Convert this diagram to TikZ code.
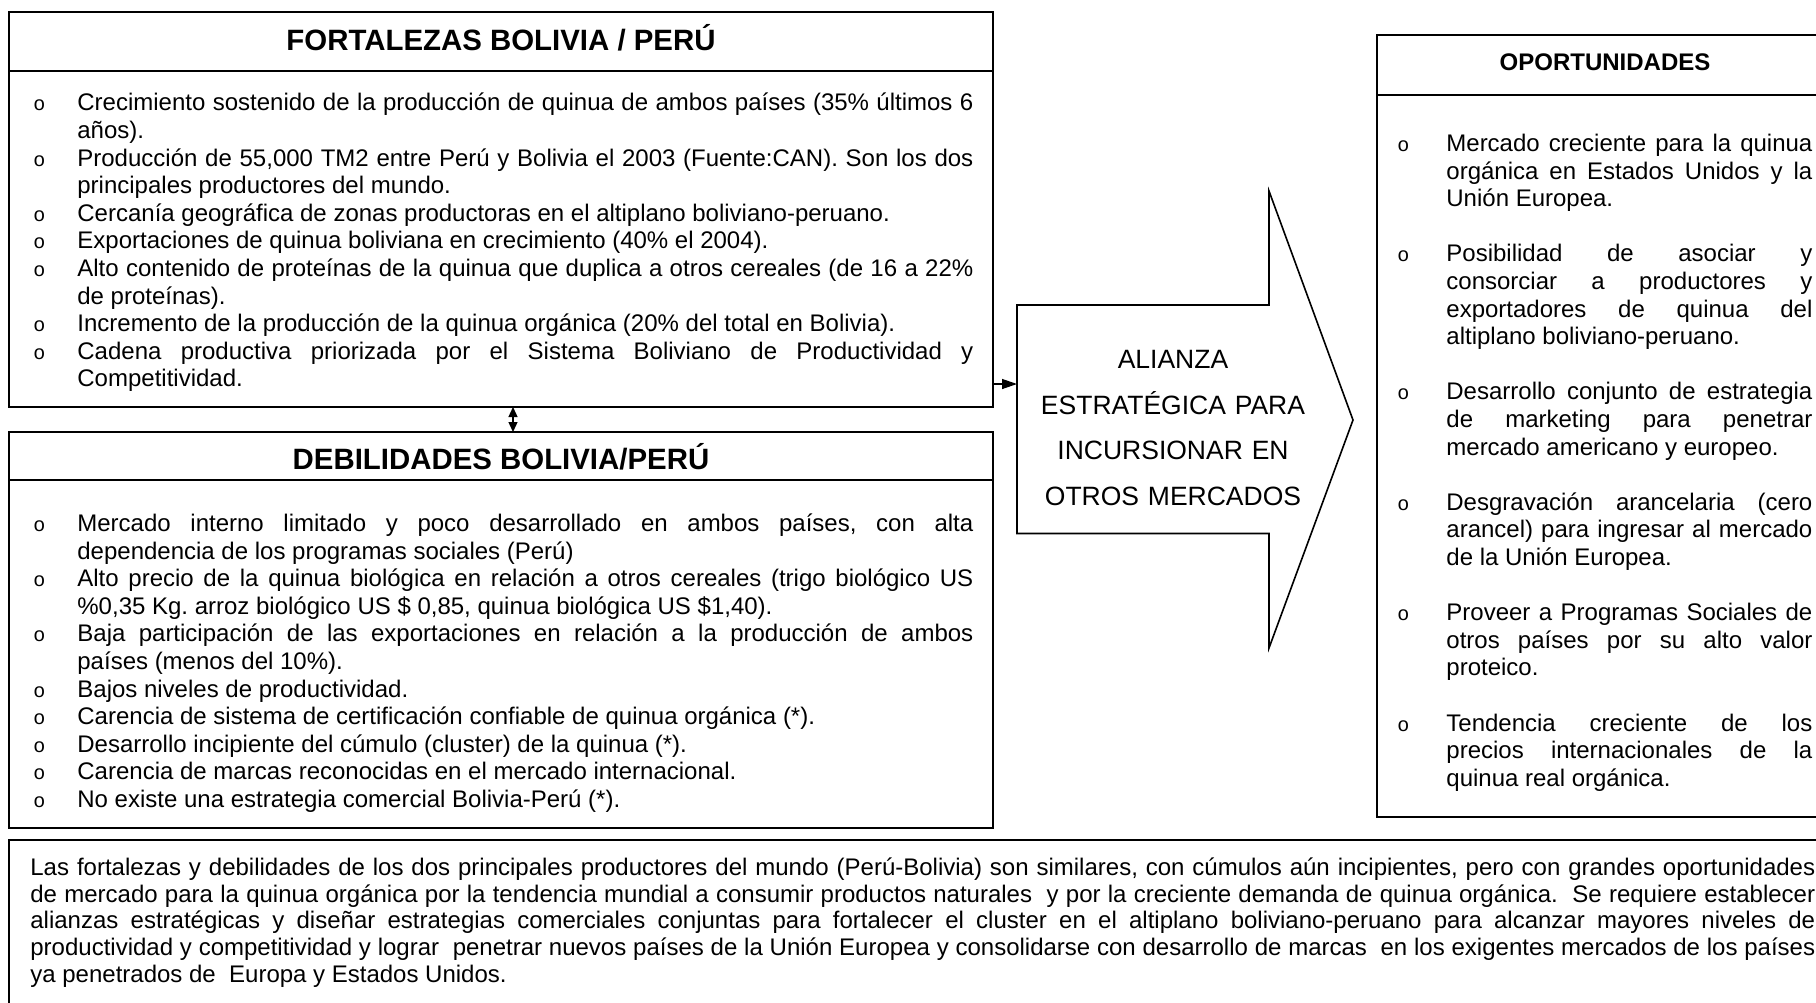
\documentclass[tikz,border=0pt]{standalone}
\usepackage{fontspec}
\setmainfont{Liberation Sans}
\newfontfamily\bulfont{Liberation Mono}
\usetikzlibrary{arrows.meta}
\frenchspacing
\newlength\tw
\newlength\bw
\newcommand\resetsp{\spaceskip=0pt\relax\xspaceskip=0pt\relax\parindent=0pt\relax}
\newcommand\bulbox{\makebox[\bw][l]{{\bulfont\fontsize{10pt}{10pt}\selectfont o}}}
\newcommand\fs{\rule{0pt}{10pt}}
\newcommand\BJ[1]{\noindent\bulbox\hbox to \tw{#1}\par}
\newcommand\BN[1]{\noindent\bulbox#1\par}
\newcommand\CJ[1]{\noindent\hspace*{\bw}\hbox to \tw{#1}\par}
\newcommand\CN[1]{\noindent\hspace*{\bw}#1\par}
\newcommand\SJ[1]{\noindent\hbox to \tw{#1}\par}
\newcommand\BL{\noindent\mbox{}\par}
\tikzset{
  boxx/.style={draw, line width=1pt, outer sep=0pt, inner sep=0pt, anchor=north west},
  hdr/.style={line width=1pt},
  conn/.style={line width=0.65pt, -{Triangle[length=7.5pt,width=5pt]}},
  dconn/.style={line width=0.65pt, {Triangle[length=5pt,width=4.5pt]}-{Triangle[length=5pt,width=4.5pt]}},
  body/.style={anchor=north west, inner sep=0pt, font=\fontsize{12pt}{13.8pt}\selectfont},
  ttl/.style={anchor=base, inner sep=0pt, font=\bfseries\fontsize{14.7pt}{16pt}\selectfont},
  ttls/.style={anchor=base, inner sep=0pt, font=\bfseries\fontsize{12pt}{14pt}\selectfont},
  bigarrow/.style={line width=0.8pt},
}
\begin{document}
\begin{tikzpicture}[x=0.5pt,y=-0.5pt]
\useasboundingbox (0,0) rectangle (1816,1002);
\fill[white] (0,0) rectangle (1816,1002);
\clip (0,0) rectangle (1816,1002);

% FORTALEZAS
\node[boxx, minimum width=492pt, minimum height=197.5pt] (fort) at (9,12) {};
\draw[hdr] ([yshift=-29.5pt]fort.north west) -- ([yshift=-29.5pt]fort.north east);
\node[ttl] (fortt) at (501,50) {FORTALEZAS BOLIVIA / PERÚ};
\node[body, text width=471pt] (fortb) at (33,90.5) {\resetsp\setlength\tw{448pt}\setlength\bw{22pt}%
\BJ{\fs Crecimiento sostenido de la producción de quinua de ambos países (35\% últimos 6}
\CN{años).}
\BJ{Producción de 55,000 TM2 entre Perú y Bolivia el 2003 (Fuente:CAN). Son los dos}
\CN{principales productores del mundo.}
\BN{Cercanía geográfica de zonas productoras en el altiplano boliviano-peruano.}
\BN{Exportaciones de quinua boliviana en crecimiento (40\% el 2004).}
\BJ{Alto contenido de proteínas de la quinua que duplica a otros cereales (de 16 a 22\%}
\CN{de proteínas).}
\BN{Incremento de la producción de la quinua orgánica (20\% del total en Bolivia).}
\BJ{Cadena productiva priorizada por el Sistema Boliviano de Productividad y}
\CN{Competitividad.}};

% DEBILIDADES
\node[boxx, minimum width=492pt, minimum height=198pt] (debil) at (9,432) {};
\draw[hdr] ([yshift=-24pt]debil.north west) -- ([yshift=-24pt]debil.north east);
\node[ttl] (debilt) at (501,469) {DEBILIDADES BOLIVIA/PERÚ};
\node[body, text width=471pt] (debilb) at (33,511) {\resetsp\setlength\tw{448pt}\setlength\bw{22pt}%
\BJ{\fs Mercado interno limitado y poco desarrollado en ambos países, con alta}
\CN{dependencia de los programas sociales (Perú)}
\BJ{Alto precio de la quinua biológica en relación a otros cereales (trigo biológico US}
\CN{\%0,35 Kg. arroz biológico US \$ 0,85, quinua biológica US \$1,40).}
\BJ{Baja participación de las exportaciones en relación a la producción de ambos}
\CN{países (menos del 10\%).}
\BN{Bajos niveles de productividad.}
\BN{Carencia de sistema de certificación confiable de quinua orgánica (*).}
\BN{Desarrollo incipiente del cúmulo (cluster) de la quinua (*).}
\BN{Carencia de marcas reconocidas en el mercado internacional.}
\BN{No existe una estrategia comercial Bolivia-Perú (*).}};

\draw[dconn] ([xshift=6pt]fort.south) -- ([xshift=6pt]debil.north);

% BIG ARROW
\draw[bigarrow] (1017,305) -- (1269,305) -- (1269,191) -- (1353,420) -- (1269,648) -- (1269,533.5) -- (1017,533.5) -- cycle;
\node[align=center, text width=150pt, inner sep=0pt, font=\fontsize{13.25pt}{22.8pt}\selectfont] (alli) at (1173,428)
  {ALIANZA\\ ESTRATÉGICA PARA\\ INCURSIONAR EN\\ OTROS MERCADOS};
\coordinate (allil) at (1017,384);
\draw[conn] (fort.east |- allil) -- (allil);

% OPORTUNIDADES
\node[boxx, minimum width=228pt, minimum height=391pt] (oport) at (1377,35) {};
\draw[hdr] ([yshift=-30pt]oport.north west) -- ([yshift=-30pt]oport.north east);
\node[ttls] (oportt) at (1605,70) {OPORTUNIDADES};
\node[body, text width=209.5pt] (oportb) at (1397,131) {\resetsp\setlength\tw{183pt}\setlength\bw{24.5pt}%
\BJ{\fs Mercado creciente para la quinua}
\CJ{orgánica en Estados Unidos y la}
\CN{Unión Europea.}
\BL
\BJ{Posibilidad de asociar y}
\CJ{consorciar a productores y}
\CJ{exportadores de quinua del}
\CN{altiplano boliviano-peruano.}
\BL
\BJ{Desarrollo conjunto de estrategia}
\CJ{de marketing para penetrar}
\CN{mercado americano y europeo.}
\BL
\BJ{Desgravación arancelaria (cero}
\CJ{arancel) para ingresar al mercado}
\CN{de la Unión Europea.}
\BL
\BJ{Proveer a Programas Sociales de}
\CJ{otros países por su alto valor}
\CN{proteico.}
\BL
\BJ{Tendencia creciente de los}
\CJ{precios internacionales de la}
\CN{quinua real orgánica.}};

% SUMMARY
\node[boxx, minimum width=913.5pt, minimum height=100pt] (summ) at (9,840) {};
\node[body, text width=893.5pt, font=\fontsize{12pt}{13.35pt}\selectfont] (summb) at (30,855) {\resetsp\setlength\tw{892.5pt}%
\SJ{\fs Las fortalezas y debilidades de los dos principales productores del mundo (Perú-Bolivia) son similares, con cúmulos aún incipientes, pero con grandes oportunidades}
\SJ{de mercado para la quinua orgánica por la tendencia mundial a consumir productos naturales\ \ y por la creciente demanda de quinua orgánica.\ \ Se requiere establecer}
\SJ{alianzas estratégicas y diseñar estrategias comerciales conjuntas para fortalecer el cluster en el altiplano boliviano-peruano para alcanzar mayores niveles de}
\SJ{productividad y competitividad y lograr\ \ penetrar nuevos países de la Unión Europea y consolidarse con desarrollo de marcas\ \ en los exigentes mercados de los países}
\noindent ya penetrados de\ \ Europa y Estados Unidos.\par};
\end{tikzpicture}
\end{document}
